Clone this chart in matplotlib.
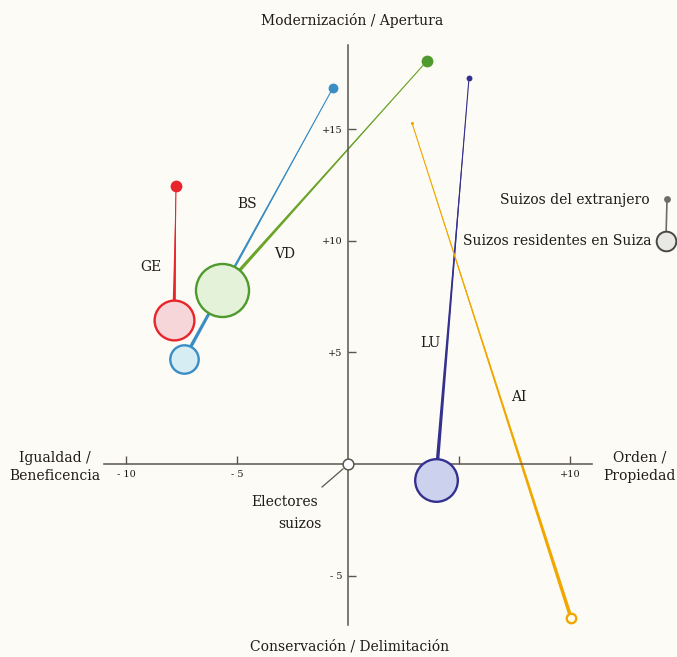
import matplotlib
matplotlib.use("Agg")
import matplotlib.pyplot as plt
import numpy as np

# cantones: posicion de residentes (x, y) y de suizos del extranjero
cantons = ["GE", "BS", "VD", "LU", "AI"]
res_x = [-7.84, -7.39, -5.68, 3.96, 10.05]
res_y = [6.46, 4.71, 7.80, -0.70, -6.91]
abr_x = [-7.75, -0.68, 3.56, 5.45, 2.88]
abr_y = [12.47, 16.86, 18.07, 17.31, 15.29]
# peso relativo (area) de cada grupo
res_weight = [441, 225, 784, 506, 25]
abr_weight = [36, 25, 36, 9, 2.5]

xticks = [-10, -5, 5, 10]
xticklabels = ["- 10", "- 5", "", "+10"]
yticks = [-5, 5, 10, 15]
yticklabels = ["- 5", "+5", "+10", "+15"]

edge_cols = {"GE": "#e8252b", "BS": "#3a8dc5", "VD": "#4f9a2c", "LU": "#34318f", "AI": "#f1a700"}
line_cols = {"GE": "#e8252b", "BS": "#3a8dc5", "VD": "#6aa52a", "LU": "#34318f", "AI": "#f1a700"}
fill_cols = {"GE": "#f6d6d9", "BS": "#d6edf4", "VD": "#e4f2da", "LU": "#ccd2ee", "AI": "#fffdf5"}
label_pos = {"GE": (-8.87, 8.83), "BS": (-4.55, 11.66), "VD": (-2.84, 9.42),
             "LU": (3.69, 5.43), "AI": (7.70, 3.0)}

bg = "#fcfbf5"
axcol = "#5a5550"
txtcol = "#1f1b18"
serif = "DejaVu Serif"
fs = 10

fig = plt.figure(figsize=(6.77, 6.57), dpi=100, facecolor=bg)
ax = fig.add_axes([0, 0, 1, 1])
ax.set_facecolor(bg)
ax.set_xlim(-15.68, 14.82)
ax.set_ylim(-8.65, 20.8)

for s in ["top", "right"]:
    ax.spines[s].set_visible(False)
ax.spines["left"].set_position(("data", 0))
ax.spines["bottom"].set_position(("data", 0))
ax.spines["bottom"].set_bounds(-11, 11)
ax.spines["left"].set_bounds(-7.2, 18.8)
for s in ["left", "bottom"]:
    ax.spines[s].set_color(axcol)
    ax.spines[s].set_linewidth(1.1)
ax.set_xticks(xticks)
ax.set_xticklabels(xticklabels)
ax.set_yticks(yticks)
ax.set_yticklabels(yticklabels)
ax.tick_params(axis="both", direction="in", length=6, width=1, color=axcol,
               labelsize=7, labelcolor=txtcol)
ax.tick_params(axis="x", pad=4)
ax.tick_params(axis="y", pad=4)
for lab in ax.get_xticklabels() + ax.get_yticklabels():
    lab.set_family(serif)

k = 2.0  # escala de area a puntos^2
for i, c in enumerate(cantons):
    # linea afinada de residentes a extranjero
    ax.annotate("", xy=(abr_x[i], abr_y[i]), xytext=(res_x[i], res_y[i]),
                arrowprops=dict(arrowstyle="wedge,tail_width=0.26", color=line_cols[c],
                                lw=0, shrinkA=0, shrinkB=0), zorder=2)
    ax.plot([res_x[i], abr_x[i]], [res_y[i], abr_y[i]], color=line_cols[c], lw=0.8, zorder=2)
    ax.scatter(abr_x[i], abr_y[i], s=k * abr_weight[i], color=edge_cols[c], zorder=4, lw=0)
    ax.scatter(res_x[i], res_y[i], s=k * res_weight[i] * 0.93, facecolor=fill_cols[c],
               edgecolor=edge_cols[c], lw=1.7, zorder=4)
    ax.text(*label_pos[c], c, family=serif, fontsize=fs, color=txtcol,
            ha="center", va="center", zorder=5)

# electores suizos en el origen
ax.scatter([0], [0], s=k * 30, facecolor="white", edgecolor=axcol, lw=1.1, zorder=5)
ax.plot([-1.17, -0.23], [-1.03, -0.22], color=axcol, lw=0.9, zorder=3)
ax.text(-1.35, -1.70, "Electores", family=serif, fontsize=fs, color=txtcol, ha="right", va="center")
ax.text(-1.17, -2.69, "suizos", family=serif, fontsize=fs, color=txtcol, ha="right", va="center")

# titulos de ejes
ax.text(0.18, 19.9, "Modernización / Apertura", family=serif, fontsize=fs, color=txtcol,
        ha="center", va="center")
ax.text(0.05, -8.16, "Conservación / Delimitación", family=serif, fontsize=fs, color=txtcol,
        ha="center", va="center")
ax.text(-13.2, -0.13, "Igualdad /\nBeneficencia", family=serif, fontsize=fs, color=txtcol,
        ha="center", va="center", linespacing=1.4)
ax.text(13.15, -0.13, "Orden /\nPropiedad", family=serif, fontsize=fs, color=txtcol,
        ha="center", va="center", linespacing=1.4)

# leyenda
ax.plot([14.37, 14.32], [11.88, 10.0], color="#6e6b68", lw=1.2, zorder=3)
ax.scatter([14.37], [11.88], s=k * 12, color="#6e6b68", lw=0, zorder=4)
ax.scatter([14.32], [10.0], s=k * 100, facecolor="#e8e8e4", edgecolor="#4a4744", lw=1.4, zorder=4)
ax.text(13.6, 11.84, "Suizos del extranjero", family=serif, fontsize=fs, color=txtcol,
        ha="right", va="center")
ax.text(13.69, 10.0, "Suizos residentes en Suiza", family=serif, fontsize=fs, color=txtcol,
        ha="right", va="center")

fig.savefig("out.png", dpi=100, facecolor=bg)
